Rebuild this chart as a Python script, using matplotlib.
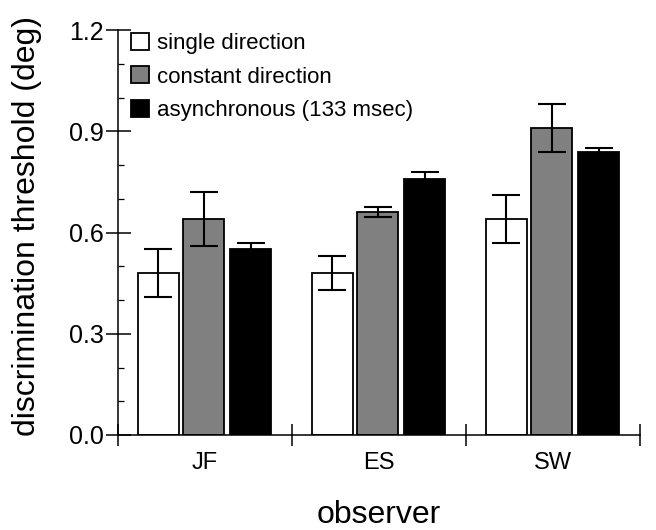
import numpy as np
import matplotlib
matplotlib.use("Agg")
import matplotlib.pyplot as plt

plt.rcParams["font.family"] = ["Liberation Sans", "DejaVu Sans"]

observers = ["JF", "ES", "SW"]
conditions = ["single direction", "constant direction", "asynchronous (133 msec)"]
colors = ["white", "#808080", "black"]

# thresholds (deg) and error bar half-lengths, one list per condition
single = [0.48, 0.48, 0.64]
single_err = [0.07, 0.05, 0.07]
constant = [0.64, 0.66, 0.91]
constant_err = [0.08, 0.015, 0.07]
asynch = [0.55, 0.76, 0.84]
asynch_err = [0.02, 0.02, 0.01]

values = [single, constant, asynch]
errors = [single_err, constant_err, asynch_err]


def main():
    fig = plt.figure(figsize=(6.56, 5.30), dpi=100)
    ax = fig.add_axes([118 / 656, 95 / 530, 522 / 656, 405 / 530])

    x = np.arange(len(observers))
    width = 0.236
    offsets = [-0.268, -0.006, 0.262]
    for vals, errs, col, lab, off in zip(values, errors, colors, conditions, offsets):
        ax.bar(x + off, vals, width, color=col, edgecolor="black",
               linewidth=1.3, label=lab, zorder=2)
        ax.errorbar(x + off, vals, yerr=errs, fmt="none", ecolor="black",
                    elinewidth=1.5, capsize=10, capthick=1.5, zorder=3)

    ax.set_xlim(-0.5, 2.5)
    ax.set_ylim(0, 1.2)
    for s in ("top", "right"):
        ax.spines[s].set_visible(False)
    for s in ("left", "bottom"):
        ax.spines[s].set_linewidth(1.1)

    ax.set_yticks([0.0, 0.3, 0.6, 0.9, 1.2])
    ax.set_yticklabels(["0.0", "0.3", "0.6", "0.9", "1.2"])
    ax.set_yticks(np.arange(0.1, 1.2, 0.1), minor=True)
    ax.tick_params(axis="y", which="major", direction="inout", length=18,
                   width=1.1, labelsize=18, pad=1)
    ax.tick_params(axis="y", which="minor", direction="in", length=4, width=0.9)

    ax.set_xticks([-0.5, 0.5, 1.5, 2.5])
    ax.set_xticklabels([])
    ax.set_xticks(x, minor=True)
    ax.set_xticklabels(observers, minor=True)
    ax.tick_params(axis="x", which="major", direction="inout", length=16, width=1.1)
    ax.tick_params(axis="x", which="minor", length=0, labelsize=17, pad=12)

    ax.set_ylabel("discrimination threshold (deg)", fontsize=23)
    ax.yaxis.set_label_coords(-0.145, 0.515)
    ax.set_xlabel("observer", fontsize=23, labelpad=19)

    ax.legend(loc="upper left", bbox_to_anchor=(0.025, 0.993), frameon=False,
              fontsize=16, borderpad=0, borderaxespad=0, handlelength=0.8,
              handleheight=0.8, handletextpad=0.35, labelspacing=0.55)

    fig.savefig("out.png", dpi=100)


if __name__ == "__main__":
    main()
